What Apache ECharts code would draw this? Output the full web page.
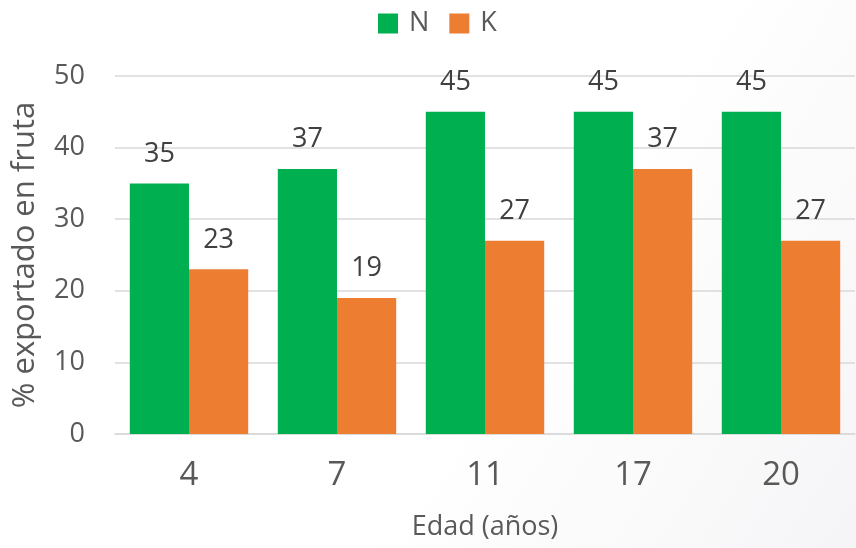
<!DOCTYPE html>
<html>
<head>
<meta charset="utf-8">
<script src="https://cdn.jsdelivr.net/npm/echarts@6/dist/echarts.min.js"></script>
<style>
  html, body { margin: 0; padding: 0; }
  #chart { width: 856px; height: 548px; }
</style>
</head>
<body>
<div id="chart"></div>
<script>
// Edad del cultivo (años) y porcentaje exportado en fruta
const categories = ['4', '7', '11', '17', '20'];
const valuesN = [35, 37, 45, 45, 45];
const valuesK = [23, 19, 27, 37, 27];
const yTicks = { min: 0, max: 50, interval: 10 };

const FONT = '"Open Sans", "Noto Sans", sans-serif';
const TEXT = '#595959';

const chart = echarts.init(document.getElementById('chart'));
chart.setOption({
  backgroundColor: {
    type: 'linear', x: 0, y: 0, x2: 1, y2: 1,
    colorStops: [
      { offset: 0, color: '#ffffff' },
      { offset: 0.6, color: '#ffffff' },
      { offset: 1, color: '#f5f5f7' }
    ]
  },
  textStyle: { fontFamily: FONT },
  legend: {
    top: 5,
    left: 373,
    itemWidth: 20,
    itemHeight: 20,
    itemGap: 20,
    icon: 'rect',
    textStyle: { fontSize: 27, color: TEXT, fontFamily: FONT, padding: [0, 0, 0, 6] },
    data: ['N', 'K']
  },
  grid: { left: 115, right: 1, top: 76, bottom: 114 },
  xAxis: {
    type: 'category',
    data: categories,
    name: 'Edad (años)',
    nameLocation: 'middle',
    nameGap: 80,
    nameTextStyle: { fontSize: 27, color: TEXT, fontFamily: FONT },
    axisLine: { lineStyle: { color: '#d9d9d9', width: 1.5 } },
    axisTick: { show: false },
    axisLabel: { fontSize: 33, color: TEXT, margin: 25, fontFamily: FONT }
  },
  yAxis: {
    type: 'value',
    min: yTicks.min,
    max: yTicks.max,
    interval: yTicks.interval,
    name: '% exportado en fruta',
    nameLocation: 'middle',
    nameGap: 74,
    nameRotate: 90,
    nameTextStyle: { fontSize: 31, color: TEXT, fontFamily: FONT },
    axisLine: { show: false },
    axisTick: { show: false },
    axisLabel: { fontSize: 27, color: TEXT, margin: 30, fontFamily: FONT },
    splitLine: { lineStyle: { color: '#d9d9d9', width: 1.5 } }
  },
  series: [
    {
      name: 'N',
      type: 'bar',
      data: valuesN,
      barGap: '0%',
      barCategoryGap: '20%',
      itemStyle: { color: '#00b050' },
      label: { show: true, position: 'top', distance: 16, fontSize: 27, color: '#404040', fontFamily: FONT }
    },
    {
      name: 'K',
      type: 'bar',
      data: valuesK,
      barGap: '0%',
      barCategoryGap: '20%',
      itemStyle: { color: '#ed7d31' },
      label: { show: true, position: 'top', distance: 16, fontSize: 27, color: '#404040', fontFamily: FONT }
    }
  ]
});
</script>
</body>
</html>
